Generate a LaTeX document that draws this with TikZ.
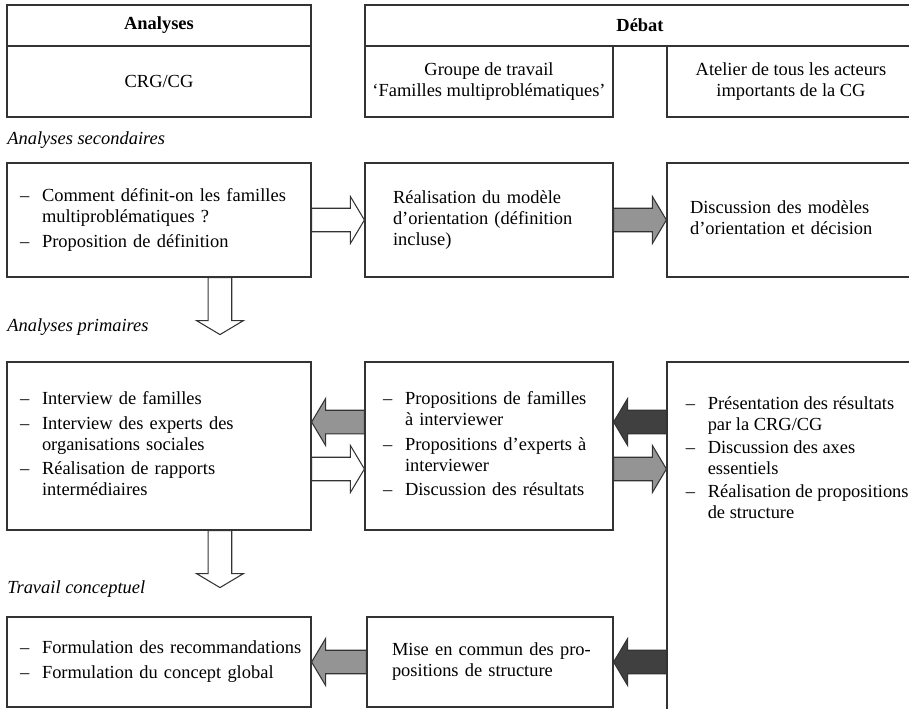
\documentclass[tikz,border=0pt]{standalone}
\usepackage{fontspec}
\setmainfont{Liberation Serif}
\usetikzlibrary{calc}

\newcommand{\dash}{\makebox[0.44cm][l]{–}}
\newcommand{\itemlist}[1]{\begin{tabular}{@{}l@{}l@{}}#1\end{tabular}}
\newcommand{\lines}[1]{\begin{tabular}{@{}l@{}}#1\end{tabular}}
% block arrows: #1 style, #2 tail, #3 tip
\newcommand{\harrow}[3]{%
  \draw[#1] let \p1=(#2), \p2=(#3), \n1={8*(\x2-\x1)/abs(\x2-\x1)} in
    (\x1,\y1-6.7pt) -- ({\x2-(\n1)*1pt},\y1-6.7pt) -- ({\x2-(\n1)*1pt},\y1-13.4pt)
    -- (\x2,\y1) -- ({\x2-(\n1)*1pt},\y1+13.4pt) -- ({\x2-(\n1)*1pt},\y1+6.7pt)
    -- (\x1,\y1+6.7pt) -- cycle;}
\newcommand{\varrow}[3]{%
  \draw[#1] let \p1=(#2), \p2=(#3), \n1={8*(\y2-\y1)/abs(\y2-\y1)} in
    (\x1-6.7pt,\y1) -- (\x1-6.7pt,{\y2-(\n1)*1pt}) -- (\x1-13.4pt,{\y2-(\n1)*1pt})
    -- (\x1,\y2) -- (\x1+13.4pt,{\y2-(\n1)*1pt}) -- (\x1+6.7pt,{\y2-(\n1)*1pt})
    -- (\x1+6.7pt,\y1) -- cycle;}

\begin{document}
\begin{tikzpicture}[
  x=0.02cm, y=-0.02cm,
  font=\fontsize{10.5}{12}\selectfont,
  box/.style={draw=black!80, line width=0.7pt, inner ysep=0pt, align=left},
  headbox/.style={box, align=center, inner sep=0pt},
  note/.style={anchor=west, inner sep=0pt, font=\fontsize{10.5}{12}\selectfont\itshape},
  hollow/.style={draw=black!80, line width=0.6pt, fill=white},
  greyarr/.style={hollow, fill=black!42},
  darkarr/.style={hollow, fill=black!75}
]
\useasboundingbox (0,0) rectangle (909,709);

% header
\node[headbox, minimum width=6.08cm, minimum height=0.82cm,
      font=\fontsize{10.5}{12}\selectfont\bfseries] (anaHead) at (159,25.5) {Analyses};
\node[headbox, minimum width=6.08cm, minimum height=1.42cm] (anaBody) at (159,81.5) {CRG/CG};
\node[headbox, minimum width=11cm, minimum height=0.82cm,
      font=\fontsize{10.5}{12}\selectfont\bfseries] (debHead) at (640,25.5) {Débat};
\node[headbox, minimum width=4.96cm, minimum height=1.42cm] (grpBox) at (489,81.5)
  {Groupe de travail\\‘Familles multiproblématiques’};
\node[headbox, minimum width=4.96cm, minimum height=1.42cm] (atlBox) at (791,81.5)
  {Atelier de tous les acteurs\\importants de la CG};

% analyses secondaires
\node[note] (secLbl) at (7,140) {Analyses secondaires};
\node[box, minimum width=6.08cm, minimum height=2.28cm, inner xsep=0.26cm, text width=5.56cm]
  (secA) at (159,220)
  {\itemlist{\dash & Comment définit-on les familles\\ & multiproblématiques ?\\[2pt]
   \dash & Proposition de définition}};
\node[box, minimum width=4.96cm, minimum height=2.28cm, inner xsep=0.56cm, text width=3.84cm]
  (secB) at (489,220)
  {\lines{Réalisation du modèle\\ d’orientation (définition\\ incluse)}};
\node[box, minimum width=4.96cm, minimum height=2.28cm, inner xsep=0.46cm, text width=4.04cm]
  (secC) at (791,220)
  {\lines{Discussion des modèles\\ d’orientation et décision}};

% analyses primaires
\node[note] (priLbl) at (7,327) {Analyses primaires};
\node[box, minimum width=6.08cm, minimum height=3.36cm, inner xsep=0.26cm, text width=5.56cm]
  (priA) at (159,446)
  {\itemlist{\dash & Interview de familles\\[2pt]
   \dash & Interview des experts des\\ & organisations sociales\\[2pt]
   \dash & Réalisation de rapports\\ & intermédiaires}};
\node[box, minimum width=4.96cm, minimum height=3.36cm, inner xsep=0.36cm, text width=4.24cm]
  (priB) at (489,446)
  {\itemlist{\dash & Propositions de familles\\ & à interviewer\\[2pt]
   \dash & Propositions d’experts à\\ & interviewer\\[2pt]
   \dash & Discussion des résultats}};
\node[box, minimum width=4.96cm, minimum height=7.06cm] (priC) at (791,538.5) {};
\node[anchor=north west, inner sep=0pt, align=left] (priCtxt)
  at ([xshift=0.38cm, yshift=-0.66cm]priC.north west)
  {\itemlist{\dash & Présentation des résultats\\ & par la CRG/CG\\[1pt]
   \dash & Discussion des axes\\ & essentiels\\[1pt]
   \dash & Réalisation de propositions\\ & de structure}};

% travail conceptuel
\node[note] (conLbl) at (7,589) {Travail conceptuel};
\node[box, minimum width=6.08cm, minimum height=1.8cm, inner xsep=0.26cm, text width=5.56cm]
  (conA) at (159,662)
  {\itemlist{\dash & Formulation des recommandations\\[2pt]
   \dash & Formulation du concept global}};
\node[box, minimum width=4.92cm, minimum height=1.8cm, inner xsep=0.5cm, text width=3.92cm]
  (conB) at (490,662)
  {\lines{Mise en commun des pro-\\ positions de structure}};

% arrows
\coordinate (secDown) at ($([xshift=1.22cm]secA.south)+(0,57)$);
\coordinate (priDown) at ($([xshift=1.22cm]priA.south)+(0,57)$);
\varrow{hollow}{[xshift=1.22cm]secA.south}{secDown}
\varrow{hollow}{[xshift=1.22cm]priA.south}{priDown}

\harrow{hollow}{secA.east}{secB.west}
\harrow{greyarr}{secB.east}{secC.west}

\harrow{greyarr}{[yshift=0.48cm]priB.west}{[yshift=0.48cm]priA.east}
\harrow{hollow}{[yshift=-0.46cm]priA.east}{[yshift=-0.46cm]priB.west}
\harrow{darkarr}{$(priC.west |- priB.east)+(0,-24)$}{[yshift=0.48cm]priB.east}
\harrow{greyarr}{[yshift=-0.46cm]priB.east}{$(priC.west |- priB.east)+(0,23)$}

\harrow{greyarr}{conB.west}{conA.east}
\harrow{darkarr}{priC.west |- conB.east}{conB.east}
\end{tikzpicture}
\end{document}
